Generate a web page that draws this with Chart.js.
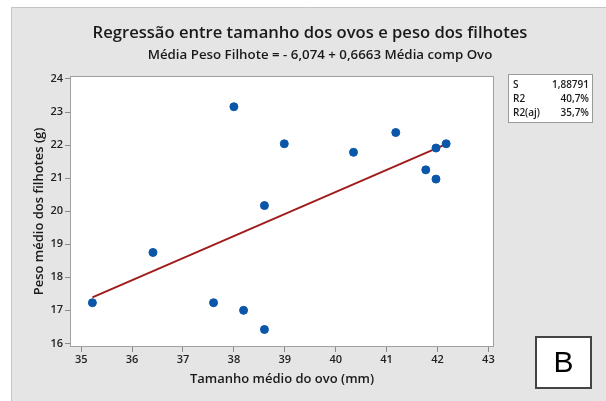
<!DOCTYPE html>
<html>
<head>
<meta charset="utf-8">
<script src="https://cdn.jsdelivr.net/npm/chart.js@4.4.1/dist/chart.umd.min.js"></script>
<style>
  html, body { margin: 0; padding: 0; background: #fff; }
  #wrap { width: 606px; height: 401px; }
</style>
</head>
<body>
<div id="wrap"><canvas id="regChart" width="606" height="401"></canvas></div>
<script>
// Egg size (mm) vs chick weight (g)
const eggSize = [35.22, 36.41, 37.6, 38.0, 38.19, 38.6, 38.6, 38.99, 40.35, 41.18, 41.77, 41.97, 41.97, 42.17];
const chickWeight = [17.23, 18.75, 17.23, 23.16, 17.0, 20.17, 16.42, 22.04, 21.78, 22.38, 21.25, 21.91, 20.97, 22.04];

// fitted line endpoints
const fitX = [35.22, 42.17];
const fitY = [17.39, 22.03];

const xTicks = [35, 36, 37, 38, 39, 40, 41, 42, 43];
const yTicks = [16, 17, 18, 19, 20, 21, 22, 23, 24];

const statLabels = ["S", "R2", "R2(aj)"];
const statValues = ["1,88791", "40,7%", "35,7%"];

const fontFam = "'Open Sans', 'Noto Sans', sans-serif";

// background panel, white plot area, stats box, panel letter
const decor = {
    id: "decor",
    beforeDraw(chart) {
        const ctx = chart.ctx;
        const a = chart.chartArea;
        ctx.save();
        ctx.fillStyle = "#ffffff";
        ctx.fillRect(0, 0, chart.width, chart.height);
        ctx.fillStyle = "#e5e5e5";
        ctx.fillRect(11, 7, chart.width - 11, chart.height - 7);
        ctx.strokeStyle = "#c4c4c4";
        ctx.lineWidth = 1;
        ctx.beginPath();
        ctx.moveTo(11.5, chart.height);
        ctx.lineTo(11.5, 7.5);
        ctx.lineTo(chart.width, 7.5);
        ctx.stroke();

        ctx.fillStyle = "#ffffff";
        ctx.fillRect(a.left, a.top, a.right - a.left, a.bottom - a.top);
        ctx.restore();
    },
    afterDraw(chart) {
        const ctx = chart.ctx;
        const a = chart.chartArea;
        ctx.save();
        // plot frame
        ctx.strokeStyle = "#a0a0a0";
        ctx.lineWidth = 1;
        ctx.strokeRect(a.left + 0.5, a.top + 0.5, a.right - a.left - 1, a.bottom - a.top - 1);

        // titles
        ctx.fillStyle = "#1a1a1a";
        ctx.textAlign = "center";
        ctx.textBaseline = "middle";
        ctx.font = "600 16.6px " + fontFam;
        ctx.fillText("Regressão entre tamanho dos ovos e peso dos filhotes", 310, 33);
        ctx.font = "600 13.3px " + fontFam;
        ctx.fillText("Média Peso Filhote = - 6,074 + 0,6663 Média comp Ovo", 320, 55);

        // stats box
        ctx.fillStyle = "#ffffff";
        ctx.fillRect(508, 74, 85, 49);
        ctx.strokeStyle = "#9a9a9a";
        ctx.strokeRect(508.5, 74.5, 84, 48);
        ctx.fillStyle = "#1a1a1a";
        ctx.font = "600 10px " + fontFam;
        for (let i = 0; i < statLabels.length; i++) {
            const y = 85 + i * 14;
            ctx.textAlign = "left";
            ctx.fillText(statLabels[i], 513, y);
            ctx.textAlign = "right";
            ctx.fillText(statValues[i], 589, y);
        }

        // panel letter
        ctx.fillStyle = "#ffffff";
        ctx.fillRect(535, 336, 57, 53);
        ctx.strokeStyle = "#444";
        ctx.lineWidth = 2;
        ctx.strokeRect(536, 337, 55, 51);
        ctx.fillStyle = "#000";
        ctx.textAlign = "center";
        ctx.font = "30px 'Liberation Sans', Arial, sans-serif";
        ctx.fillText("B", 563.5, 364);
        ctx.restore();
    }
};

new Chart(document.getElementById("regChart"), {
    type: "scatter",
    data: {
        datasets: [{
            type: "line",
            data: fitX.map((x, i) => ({ x: x, y: fitY[i] })),
            borderColor: "#a01c1c",
            borderWidth: 2,
            pointRadius: 0,
            fill: false,
            order: 2
        }, {
            data: eggSize.map((x, i) => ({ x: x, y: chickWeight[i] })),
            backgroundColor: "#0a56a8",
            borderColor: "#0a56a8",
            pointRadius: 4,
            order: 1
        }]
    },
    plugins: [decor],
    options: {
        responsive: false,
        animation: false,
        layout: {
            padding: { left: 0, top: 76, right: 112, bottom: 0 }
        },
        plugins: {
            legend: { display: false },
            tooltip: { enabled: false }
        },
        scales: {
            x: {
                type: "linear",
                min: 34.78,
                max: 43.11,
                afterBuildTicks: (s) => { s.ticks = xTicks.map(v => ({ value: v })); },
                afterFit: (s) => { s.height = 54; },
                ticks: {
                    color: "#222",
                    font: { family: fontFam, size: 11, weight: "600" },
                    padding: 1,
                    callback: (v) => v
                },
                grid: {
                    drawOnChartArea: false,
                    drawTicks: true,
                    tickLength: 5,
                    color: "#8a8a8a"
                },
                border: { display: false },
                title: {
                    display: true,
                    text: "Tamanho médio do ovo (mm)",
                    color: "#1a1a1a",
                    font: { family: fontFam, size: 13, weight: "600" },
                    padding: { top: 14, bottom: 14 }
                }
            },
            y: {
                type: "linear",
                min: 15.89,
                max: 24.09,
                afterBuildTicks: (s) => { s.ticks = yTicks.map(v => ({ value: v })); },
                afterFit: (s) => { s.width = 70; },
                ticks: {
                    color: "#222",
                    font: { family: fontFam, size: 11, weight: "600" },
                    padding: 2,
                    callback: (v) => v
                },
                grid: {
                    drawOnChartArea: false,
                    drawTicks: true,
                    tickLength: 5,
                    color: "#8a8a8a"
                },
                border: { display: false },
                title: {
                    display: true,
                    text: "Peso médio dos filhotes (g)",
                    color: "#1a1a1a",
                    font: { family: fontFam, size: 13, weight: "600" },
                    padding: { top: 31, bottom: 31 }
                }
            }
        }
    }
});
</script>
</body>
</html>
